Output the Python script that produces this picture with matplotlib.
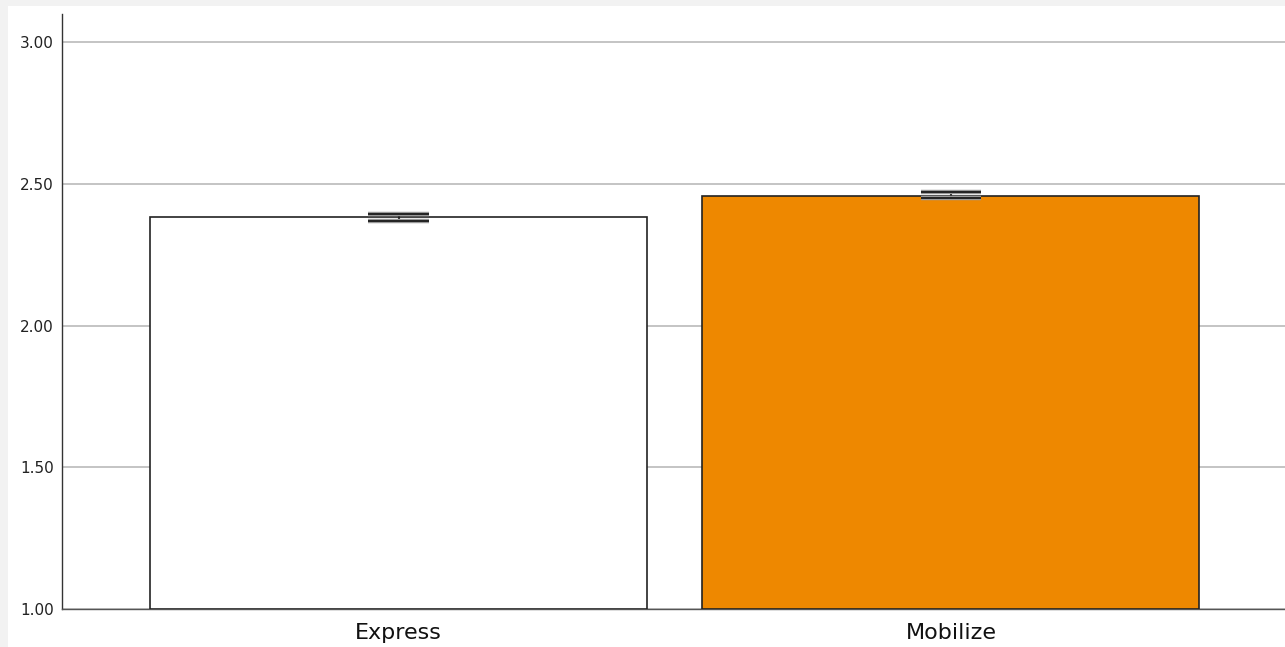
import numpy as np
import matplotlib.pyplot as plt
from matplotlib.patches import Rectangle

# group means with their error ranges
categories = ['Express', 'Mobilize']
means = [2.383, 2.458]
err_low = [2.371, 2.449]
err_high = [2.395, 2.470]
bar_colors = ['#ffffff', '#ee8800']
y_ticks = [1.0, 1.5, 2.0, 2.5, 3.0]

fig = plt.figure(figsize=(12.85, 6.47), dpi=100, facecolor='#f2f2f2')
bg = Rectangle((8 / 1285, 0), 1, (647 - 6) / 647, transform=fig.transFigure,
               facecolor='white', edgecolor='none', zorder=-10)
fig.add_artist(bg)

ax = fig.add_axes([62 / 1285, 38 / 647, 1 - 62 / 1285, (609 - 14) / 647])
ax.set_facecolor('white')

x = np.arange(len(categories))
ax.bar(x, np.array(means) - 1.0, bottom=1.0, width=0.9, color=bar_colors,
       edgecolor='#222222', linewidth=1.2, zorder=3)

# error bars drawn with double caps
for xi, lo, hi in zip(x, err_low, err_high):
    ax.plot([xi, xi], [lo, hi], color='#222222', lw=1.5, zorder=4)
    for yv in (lo, hi):
        ax.plot([xi - 0.055, xi + 0.055], [yv, yv], color='#999999',
                lw=3.2, solid_capstyle='butt', zorder=4)
        ax.plot([xi - 0.055, xi + 0.055], [yv, yv], color='#222222',
                lw=1.4, solid_capstyle='butt', zorder=5)

ax.set_xlim(-0.61, 1.605)
ax.set_ylim(1.0, 3.1)
ax.set_yticks(y_ticks)
ax.set_yticklabels(['%.2f' % v for v in y_ticks], fontsize=11, color='#222222')
ax.set_xticks(x)
ax.set_xticklabels(categories, fontsize=16, color='#111111')
ax.tick_params(axis='both', length=0, pad=6)
ax.tick_params(axis='x', pad=10)

ax.yaxis.grid(True, color='#c4c4c4', linewidth=1.4, zorder=1)
ax.set_axisbelow(True)
for s in ['top', 'right']:
    ax.spines[s].set_visible(False)
ax.spines['left'].set_color('#333333')
ax.spines['bottom'].set_color('#555555')
ax.spines['left'].set_linewidth(1.0)
ax.spines['bottom'].set_linewidth(1.0)

fig.savefig('out.png', dpi=100, facecolor=fig.get_facecolor())
